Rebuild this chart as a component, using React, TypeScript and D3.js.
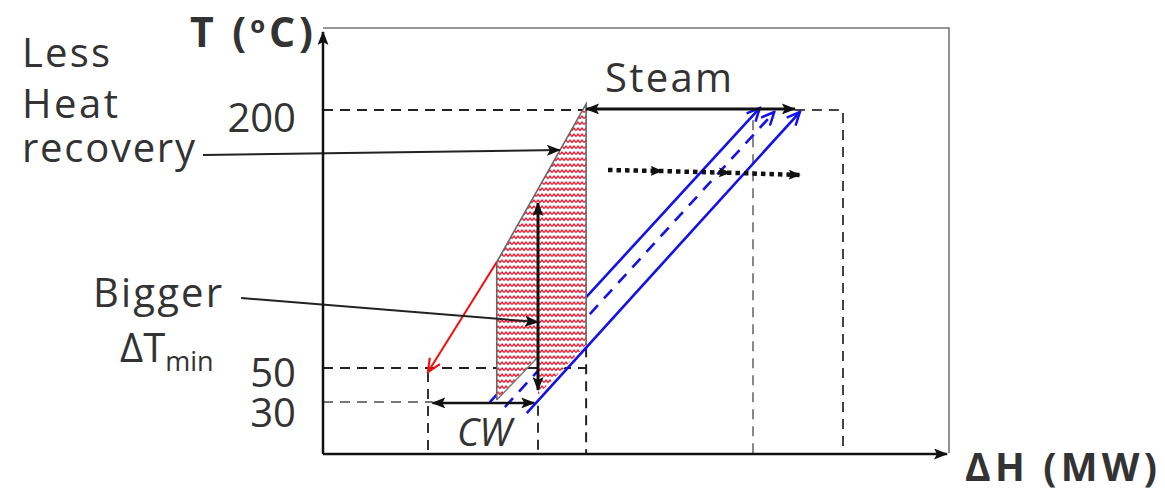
import React from 'react';
import * as d3 from 'd3';

const W = 1165;
const H = 495;

// Axis domains: ΔH in relative MW units, T in °C
const dhDomain = [0, 100];
const tDomain = [0, 200];

// Temperature levels marked on the T axis
const tempTicks = [200, 50, 30];

// Shaded area: heat no longer recovered when ΔTmin grows
const lostRecovery = [
  { dh: 27.8, t: 111.6 },
  { dh: 42.1, t: 203.5 },
  { dh: 42.1, t: 63.4 },
  { dh: 34.4, t: 34.3 },
  { dh: 34.4, t: 56.4 },
  { dh: 27.8, t: 31.4 },
];

// Edges of the shaded area drawn as grey outline
const hotEdge = [
  { dh: 27.8, t: 31.4 },
  { dh: 27.8, t: 111.6 },
  { dh: 42.1, t: 203.5 },
  { dh: 42.1, t: 63.4 },
];
const oldColdEdge = [
  { dh: 27.8, t: 31.4 },
  { dh: 34.4, t: 56.4 },
];

// Cold composite curves: original, shifted (dashed) and final position
const coldOriginal = [
  { dh: 26.7, t: 30.2 },
  { dh: 69.9, t: 201.2 },
];
const coldShifting = [
  { dh: 29.1, t: 27.3 },
  { dh: 72.2, t: 198.8 },
];
const coldShifted = [
  { dh: 32.6, t: 23.8 },
  { dh: 76.3, t: 198.8 },
];

// Hot stream end moving to lower temperature
const hotShift = [
  { dh: 27.8, t: 111.6 },
  { dh: 16.8, t: 47.7 },
];

// ΔTmin double arrow
const dTminArrow = [
  { dh: 34.4, t: 145.9 },
  { dh: 34.4, t: 37.2 },
];

// Utility ranges
const cwArrow = [
  { dh: 17.5, t: 29.7 },
  { dh: 33.8, t: 29.7 },
];
const steamArrow = [
  { dh: 42.1, t: 200.6 },
  { dh: 75.5, t: 200.6 },
];
const extraSteam = [
  { dh: 45.6, t: 165.1 },
  { dh: 54.2, t: 164.5 },
  { dh: 65.1, t: 163.5 },
  { dh: 76.3, t: 162.2 },
];

// Dashed guide lines
const guides200 = [
  { dh: 0, t: 200 },
  { dh: 42.1, t: 200 },
];
const guidesSteamEnd = [
  { dh: 75.5, t: 200 },
  { dh: 83.2, t: 200 },
  { dh: 83.2, t: 0 },
];
const guides50 = [
  { dh: 0, t: 50 },
  { dh: 42.1, t: 50 },
];
const guideRight = [
  { dh: 42.1, t: 62 },
  { dh: 42.1, t: 0 },
];
const guides30 = [
  { dh: 0, t: 30.2 },
  { dh: 17.5, t: 30.2 },
];
const guideHotEnd = [
  { dh: 16.8, t: 47.7 },
  { dh: 16.8, t: 0 },
];
const guideColdEnd = [
  { dh: 34.4, t: 28 },
  { dh: 34.4, t: 0 },
];
const guideSteamMid = [
  { dh: 68.8, t: 194 },
  { dh: 68.8, t: 0 },
];

// Annotation pointers
const lessHeatPointer = [
  { dh: -19.2, t: 173.8 },
  { dh: 37.9, t: 176.7 },
];
const biggerPointer = [
  { dh: -13.1, t: 90.7 },
  { dh: 34.4, t: 76.7 },
];

const FONT = "'Comic Sans MS', 'Open Sans', sans-serif";
const TXT = '#333';

export default function App() {
  const x = d3.scaleLinear().domain(dhDomain).range([323, 948]);
  const y = d3.scaleLinear().domain(tDomain).range([454, 110]);
  const line = d3
    .line<{ dh: number; t: number }>()
    .x((d) => x(d.dh))
    .y((d) => y(d.t));

  const x0 = x(0);
  const y0 = y(0);
  const yTop = 28;
  const xEnd = 949;
  const labelNudge = [22, 19, 25];

  return (
    <svg
      width={W}
      height={H}
      style={{ position: 'absolute', left: 0, top: 0, background: '#fff' }}
    >
      <defs>
        <pattern id="wave" width={8} height={6} patternUnits="userSpaceOnUse">
          <rect width={8} height={6} fill="#fff" />
          <path d="M0,4.5 L2,2 L4,4.5 L6,2 L8,4.5" fill="none" stroke="#ee1f36" strokeWidth={1.4} />
        </pattern>
        <marker
          id="ah"
          viewBox="0 0 14 11"
          refX={13}
          refY={5.5}
          markerWidth={14}
          markerHeight={11}
          markerUnits="userSpaceOnUse"
          orient="auto-start-reverse"
        >
          <path d="M0,0 L14,5.5 L0,11 L3,5.5 Z" fill="#111" />
        </marker>
        <marker
          id="ahSmall"
          viewBox="0 0 12 10"
          refX={11}
          refY={5}
          markerWidth={12}
          markerHeight={10}
          markerUnits="userSpaceOnUse"
          orient="auto"
        >
          <path d="M0,0 L12,5 L0,10 L2,5 Z" fill="#111" />
        </marker>
        <marker
          id="ahBlue"
          viewBox="0 0 16 14"
          refX={14}
          refY={7}
          markerWidth={16}
          markerHeight={14}
          markerUnits="userSpaceOnUse"
          orient="auto"
        >
          <path d="M1,1 L14,7 L1,13" fill="none" stroke="#1010f0" strokeWidth={2.5} />
        </marker>
        <marker
          id="ahRed"
          viewBox="0 0 16 14"
          refX={14}
          refY={7}
          markerWidth={16}
          markerHeight={14}
          markerUnits="userSpaceOnUse"
          orient="auto"
        >
          <path d="M1,1 L14,7 L1,13" fill="none" stroke="#f01010" strokeWidth={2.2} />
        </marker>
      </defs>

      {/* frame */}
      <path
        d={`M${x0},${yTop} L${xEnd},${yTop} L${xEnd},${y0 - 1}`}
        fill="none"
        stroke="#777"
        strokeWidth={1.6}
      />

      {/* dashed guides */}
      <g fill="none" strokeWidth={2} strokeDasharray="10,7">
        <path d={line(guides200)!} stroke="#222" />
        <path d={line(guidesSteamEnd)!} stroke="#444" />
        <path d={line(guides50)!} stroke="#222" />
        <path d={line(guideRight)!} stroke="#222" />
        <path d={line(guides30)!} stroke="#777" />
        <path d={line(guideHotEnd)!} stroke="#333" />
        <path d={line(guideColdEnd)!} stroke="#333" />
        <path d={line(guideSteamMid)!} stroke="#888" />
      </g>

      {/* cold composite curves */}
      <g fill="none" stroke="#1010f0" strokeWidth={2.6}>
        <path d={line(coldOriginal)!} markerEnd="url(#ahBlue)" />
        <path d={line(coldShifting)!} strokeDasharray="12,9" markerEnd="url(#ahBlue)" />
        <path d={line(coldShifted)!} markerEnd="url(#ahBlue)" />
      </g>

      {/* shaded region */}
      <path d={line(lostRecovery)! + 'Z'} fill="url(#wave)" stroke="none" />
      <path d={line(hotEdge)!} fill="none" stroke="#666" strokeWidth={1.6} />
      <path d={line(oldColdEdge)!} fill="none" stroke="#777" strokeWidth={1.4} />

      {/* hot stream moving down */}
      <path d={line(hotShift)!} fill="none" stroke="#f01010" strokeWidth={2} markerEnd="url(#ahRed)" />

      {/* ΔTmin arrow */}
      <path
        d={line(dTminArrow)!}
        fill="none"
        stroke="#111"
        strokeWidth={3}
        markerStart="url(#ah)"
        markerEnd="url(#ah)"
      />

      {/* utilities */}
      <path
        d={line(cwArrow)!}
        fill="none"
        stroke="#111"
        strokeWidth={2.5}
        markerStart="url(#ah)"
        markerEnd="url(#ah)"
      />
      <path
        d={line(steamArrow)!}
        fill="none"
        stroke="#111"
        strokeWidth={3}
        markerStart="url(#ah)"
        markerEnd="url(#ah)"
      />
      <path
        d={line(extraSteam)!}
        fill="none"
        stroke="#111"
        strokeWidth={4.5}
        strokeDasharray="4.5,4"
        markerMid="url(#ahSmall)"
        markerEnd="url(#ahSmall)"
      />

      {/* pointers */}
      <path d={line(lessHeatPointer)!} fill="none" stroke="#222" strokeWidth={2} markerEnd="url(#ah)" />
      <path d={line(biggerPointer)!} fill="none" stroke="#222" strokeWidth={2} markerEnd="url(#ah)" />

      {/* axes */}
      <path d={`M${x0},${y0} L${x0},${yTop + 4}`} stroke="#111" strokeWidth={2.5} markerEnd="url(#ah)" />
      <path d={`M${x0},${y0} L${xEnd - 2},${y0}`} stroke="#111" strokeWidth={2.5} markerEnd="url(#ah)" />

      {/* T axis labels */}
      <g fontFamily={FONT} fontSize={40} fill={TXT}>
        {tempTicks.map((v, i) => (
          <text
            key={v}
            x={296}
            y={y(v) + labelNudge[i]}
            textAnchor="end"
          >
            {v}
          </text>
        ))}
      </g>

      {/* axis titles */}
      <text
        x={190}
        y={47}
        fontFamily={FONT}
        fontWeight="bold"
        fontSize={41}
        fill={TXT}
        textLength={123}
        lengthAdjust="spacing"
      >
        T (<tspan fontSize={24} dy={-14}>o</tspan>
        <tspan dy={14}>C)</tspan>
      </text>
      <text
        x={965}
        y={481}
        fontFamily={FONT}
        fontWeight="bold"
        fontSize={39}
        fill={TXT}
        textLength={192}
        lengthAdjust="spacing"
      >
        ΔH (MW)
      </text>

      {/* annotations */}
      <g fontFamily={FONT} fontSize={40} fill={TXT}>
        <text x={22} y={67} textLength={88} lengthAdjust="spacing">Less</text>
        <text x={22} y={118} textLength={96} lengthAdjust="spacing">Heat</text>
        <text x={22} y={162} textLength={173} lengthAdjust="spacing">recovery</text>
        <text x={93} y={307} textLength={129} lengthAdjust="spacing">Bigger</text>
        <text x={120} y={362}>
          ΔT<tspan fontSize={27} dy={9}>min</tspan>
        </text>
        <text x={605} y={92} textLength={127} lengthAdjust="spacing">Steam</text>
        <text x={457} y={446} fontStyle="italic" fontSize={38}>
          CW
        </text>
      </g>
    </svg>
  );
}
